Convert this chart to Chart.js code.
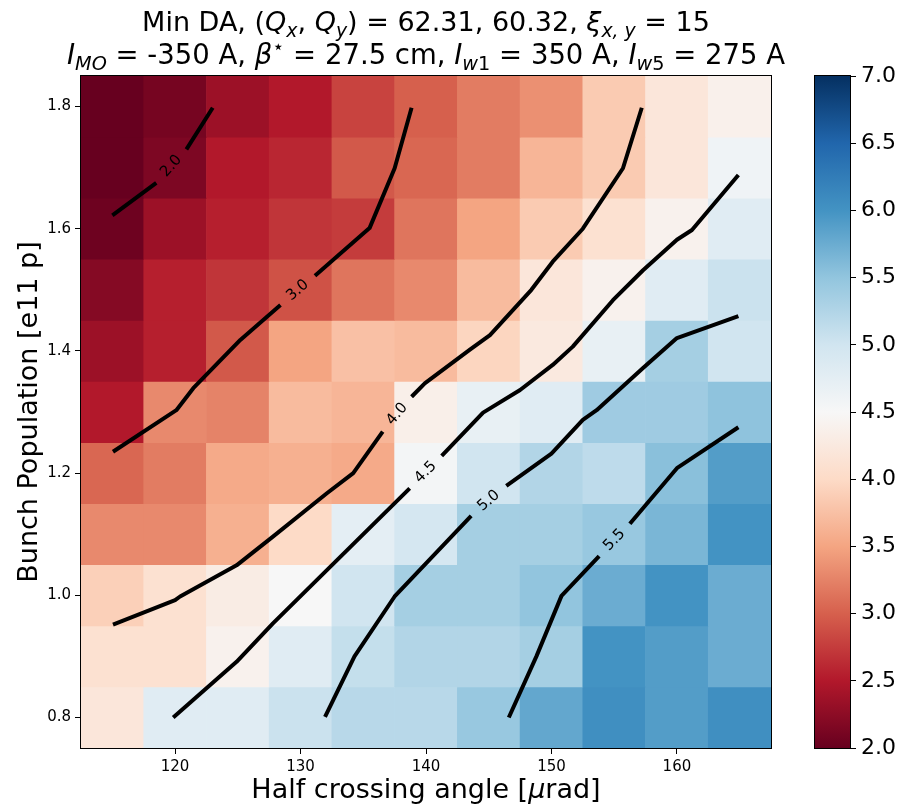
<!DOCTYPE html>
<html>
<head>
<meta charset="utf-8">
<script src="https://cdn.jsdelivr.net/npm/chart.js@4.4.1/dist/chart.umd.min.js"></script>
<style>
  html, body { margin: 0; padding: 0; background: #fff; }
  #wrap { position: relative; width: 900px; height: 809px; }
  #main { position: absolute; left: 0; top: 0; }
  #cbar { position: absolute; left: 800px; top: 0; }
</style>
</head>
<body>
<div id="wrap">
  <canvas id="main" width="800" height="809"></canvas>
  <canvas id="cbar" width="100" height="809"></canvas>
</div>
<script>
// cell centres
const crossingAngle = [115, 120, 125, 130, 135, 140, 145, 150, 155, 160, 165];
const bunchPop = [0.8, 0.9, 1.0, 1.1, 1.2, 1.3, 1.4, 1.5, 1.6, 1.7, 1.8];

// min DA per row of bunch population, crossing angle 115 -> 165
const da08 = [4.2, 4.8, 4.8, 5.05, 5.2, 5.2, 5.45, 5.8, 6.05, 5.9, 6.05];
const da09 = [4.1, 4.1, 4.4, 4.8, 5.1, 5.25, 5.25, 5.35, 6.0, 5.9, 5.75];
const da10 = [3.9, 4.1, 4.3, 4.5, 5.0, 5.35, 5.35, 5.5, 5.75, 6.0, 5.75];
const da11 = [3.3, 3.3, 3.6, 4.0, 4.75, 4.95, 5.35, 5.35, 5.45, 5.65, 6.0];
const da12 = [3.05, 3.2, 3.55, 3.6, 3.55, 4.55, 5.0, 5.25, 5.15, 5.55, 5.9];
const da13 = [2.5, 3.3, 3.25, 3.7, 3.65, 4.35, 4.7, 4.8, 5.4, 5.4, 5.52];
const da14 = [2.35, 2.55, 2.95, 3.5, 3.75, 3.7, 3.95, 4.25, 4.7, 5.35, 5.0];
const da15 = [2.2, 2.55, 2.7, 2.9, 3.15, 3.3, 3.7, 4.2, 4.4, 4.8, 5.05];
const da16 = [2.05, 2.35, 2.55, 2.7, 2.75, 3.15, 3.5, 3.85, 4.1, 4.4, 4.8];
const da17 = [1.98, 2.15, 2.5, 2.6, 2.95, 3.05, 3.2, 3.65, 3.85, 4.2, 4.6];
const da18 = [1.9, 2.1, 2.35, 2.5, 2.8, 3.0, 3.2, 3.35, 3.85, 4.2, 4.37];
const daRows = [da08, da09, da10, da11, da12, da13, da14, da15, da16, da17, da18];

// contour lines (null = gap left for the level label)
const c20x = [115.0, 118.5, null, 120.9, 123.0];
const c20y = [1.622, 1.675, null, 1.730, 1.798];
const c30x = [115.05, 120.1, 121.45, 125.2, 128.4, null, 131.15, 135.5, 137.5, 138.85];
const c30y = [1.235, 1.303, 1.339, 1.418, 1.475, null, 1.523, 1.601, 1.699, 1.798];
const c40x = [115.05, 120.0, 120.4, 124.9, 127.8, 132.1, 134.2, 136.55, null, 138.85, 139.9, 143.5, 145.1, 148.4, 150.1, 152.5, 155.7, 157.2];
const c40y = [0.952, 0.992, 0.998, 1.049, 1.096, 1.167, 1.200, 1.268, null, 1.325, 1.347, 1.402, 1.426, 1.500, 1.546, 1.600, 1.699, 1.798];
const c45x = [119.85, 124.9, 127.8, 138.7, null, 141.25, 144.55, 147.5, 150.1, 151.7, 154.9, 157.3, 160.0, 161.2, 164.9];
const c45y = [0.800, 0.891, 0.954, 1.175, null, 1.228, 1.299, 1.336, 1.377, 1.407, 1.483, 1.532, 1.582, 1.598, 1.688];
const c50x = [131.95, 134.3, 137.5, 143.6, null, 146.4, 150.0, 152.5, 153.6, 157.3, 160.0, 164.9];
const c50y = [0.801, 0.900, 0.998, 1.130, null, 1.179, 1.232, 1.287, 1.303, 1.372, 1.421, 1.457];
const c55x = [146.6, 148.8, 150.8, 153.8, null, 156.25, 160.0, 164.9];
const c55y = [0.800, 0.900, 0.999, 1.064, null, 1.117, 1.208, 1.275];
const contourLevels = ['2.0', '3.0', '4.0', '4.5', '5.0', '5.5'];
const contours = [[c20x, c20y], [c30x, c30y], [c40x, c40y], [c45x, c45y], [c50x, c50y], [c55x, c55y]];

const xTicks = [120, 130, 140, 150, 160];
const yTicks = [0.8, 1.0, 1.2, 1.4, 1.6, 1.8];
const cbarTicks = [2.0, 2.5, 3.0, 3.5, 4.0, 4.5, 5.0, 5.5, 6.0, 6.5, 7.0];
const VMIN = 2, VMAX = 7;

// rich text pieces: i = italic, s = subscript, p = superscript
const titleLine1 = [['Min DA, ', ''], ['(', ''], ['Q', 'i'], ['x', 'is'], [', ', ''], ['Q', 'i'], ['y', 'is'],
  [') = 62.31, 60.32, ', ''], ['\u03be', 'i'], ['x, y', 'is'], [' = 15', '']];
const titleLine2 = [['I', 'i'], ['MO', 'is'], [' = -350 A, ', ''], ['\u03b2', 'i'], ['\u22c6', 'p'], [' = 27.5 cm, ', ''],
  ['I', 'i'], ['w', 'is'], ['1', 's'], [' = 350 A, ', ''], ['I', 'i'], ['w', 'is'], ['5', 's'], [' = 275 A', '']];
const xTitle = [['Half crossing angle [', ''], ['\u03bc', 'i'], ['rad]', '']];

// matplotlib RdBu
const RDBU = [[103, 0, 31], [178, 24, 43], [214, 96, 77], [244, 165, 130], [253, 219, 199], [247, 247, 247],
  [209, 229, 240], [146, 197, 222], [67, 147, 195], [33, 102, 172], [5, 48, 97]];

function rdbu(v) {
  let t = (v - VMIN) / (VMAX - VMIN);
  t = Math.max(0, Math.min(1, t)) * 10;
  const i = Math.min(9, Math.floor(t)), f = t - i;
  const a = RDBU[i], b = RDBU[i + 1];
  return 'rgb(' + a.map((c, k) => Math.round(c + (b[k] - c) * f)).join(',') + ')';
}

Chart.defaults.font.family = '"DejaVu Sans", sans-serif';
Chart.defaults.color = '#000';

const halfW = (crossingAngle[1] - crossingAngle[0]) / 2;
const halfH = (bunchPop[1] - bunchPop[0]) / 2;
const cells = [];
const cellColors = [];
daRows.forEach((row, j) => row.forEach((v, i) => {
  cells.push({ x: crossingAngle[i], y: [bunchPop[j] - halfH, bunchPop[j] + halfH] });
  cellColors.push(rdbu(v));
}));

const lineSets = contours.map(([xs, ys], k) => ({
  type: 'line',
  label: contourLevels[k],
  data: xs.map((x, i) => ({ x: x, y: ys[i] })),
  borderColor: '#000',
  borderWidth: 4,
  borderJoinStyle: 'round',
  pointRadius: 0,
  fill: false,
  tension: 0,
  spanGaps: false,
  order: 0
}));

function drawRich(ctx, parts, cx, baseY, size) {
  const fontOf = st => (st.includes('i') ? 'italic ' : '') +
    ((st.includes('s') || st.includes('p')) ? size * 0.7 : size) + 'px "DejaVu Sans"';
  let w = 0;
  parts.forEach(([t, st]) => { ctx.font = fontOf(st); w += ctx.measureText(t).width; });
  let xx = cx - w / 2;
  ctx.textAlign = 'left';
  ctx.textBaseline = 'alphabetic';
  parts.forEach(([t, st]) => {
    ctx.font = fontOf(st);
    const dy = st.includes('s') ? size * 0.22 : (st.includes('p') ? -size * 0.4 : 0);
    ctx.fillText(t, xx, baseY + dy);
    xx += ctx.measureText(t).width;
  });
}

const overlay = {
  id: 'overlay',
  afterDatasetsDraw(chart) {
    const { ctx, chartArea: a, scales: { x, y } } = chart;
    ctx.save();
    ctx.font = '15px "DejaVu Sans"';
    ctx.fillStyle = '#000';
    ctx.textAlign = 'center';
    ctx.textBaseline = 'middle';
    contours.forEach(([xs, ys], k) => {
      const g = ys.indexOf(null);
      const x1 = x.getPixelForValue(xs[g - 1]), y1 = y.getPixelForValue(ys[g - 1]);
      const x2 = x.getPixelForValue(xs[g + 1]), y2 = y.getPixelForValue(ys[g + 1]);
      ctx.save();
      ctx.translate((x1 + x2) / 2, (y1 + y2) / 2);
      ctx.rotate(Math.atan2(y2 - y1, x2 - x1));
      ctx.fillText(contourLevels[k], 0, 0);
      ctx.restore();
    });
    ctx.strokeStyle = '#000';
    ctx.lineWidth = 1;
    ctx.strokeRect(Math.round(a.left) - 0.5, Math.round(a.top) - 0.5, Math.round(a.right - a.left) + 1, Math.round(a.bottom - a.top) + 1);
    ctx.restore();
  },
  afterDraw(chart) {
    const { ctx, chartArea: a } = chart;
    const cx = (a.left + a.right) / 2;
    ctx.save();
    ctx.fillStyle = '#000';
    drawRich(ctx, titleLine1, cx, 31, 27);
    drawRich(ctx, titleLine2, cx, 64, 27.5);
    drawRich(ctx, xTitle, cx, 798, 27);
    ctx.restore();
  }
};

new Chart(document.getElementById('main'), {
  type: 'bar',
  data: {
    datasets: [...lineSets, {
      label: 'min DA',
      data: cells,
      backgroundColor: cellColors,
      borderWidth: 0,
      barPercentage: 1,
      categoryPercentage: 1,
      grouped: false,
      order: 1
    }]
  },
  options: {
    responsive: false,
    animation: false,
    events: [],
    layout: { padding: { left: 0, top: 76, right: 29, bottom: 0 } },
    plugins: { legend: { display: false }, tooltip: { enabled: false } },
    scales: {
      x: {
        type: 'linear',
        min: crossingAngle[0] - halfW,
        max: crossingAngle[crossingAngle.length - 1] + halfW,
        offset: false,
        afterBuildTicks: s => { s.ticks = xTicks.map(v => ({ value: v })); },
        afterFit: s => { s.height = 61; },
        grid: { display: true, drawOnChartArea: false, drawTicks: true, tickLength: 6, color: '#000', offset: false },
        border: { display: false },
        ticks: { font: { size: 15 }, padding: 4, maxRotation: 0, autoSkip: false, callback: v => String(v) },
        title: { display: false }
      },
      y: {
        type: 'linear',
        min: bunchPop[0] - halfH,
        max: bunchPop[bunchPop.length - 1] + halfH,
        afterBuildTicks: s => { s.ticks = yTicks.map(v => ({ value: v })); },
        afterFit: s => { s.width = 81; },
        grid: { display: true, drawOnChartArea: false, drawTicks: true, tickLength: 6, color: '#000' },
        border: { display: false },
        ticks: { font: { size: 15 }, padding: 4, autoSkip: false, callback: v => v.toFixed(1) },
        title: { display: true, text: 'Bunch Population [e11 p]', font: { size: 27 }, padding: { top: 14, bottom: 0 } }
      }
    }
  },
  plugins: [overlay]
});

const cbarFrame = {
  id: 'cbarFrame',
  afterDatasetsDraw(chart) {
    const { ctx, chartArea: a } = chart;
    ctx.save();
    ctx.strokeStyle = '#000';
    ctx.lineWidth = 1;
    ctx.strokeRect(Math.round(a.left) - 0.5, Math.round(a.top) - 0.5, Math.round(a.right - a.left) + 1, Math.round(a.bottom - a.top) + 1);
    ctx.restore();
  }
};

new Chart(document.getElementById('cbar'), {
  type: 'bar',
  data: {
    labels: [''],
    datasets: [{
      data: [[VMIN, VMAX]],
      backgroundColor: c => {
        const ys = c.chart.scales.y;
        const p0 = ys ? ys.getPixelForValue(VMIN) : NaN;
        const p1 = ys ? ys.getPixelForValue(VMAX) : NaN;
        if (!isFinite(p0) || !isFinite(p1)) return rdbu((VMIN + VMAX) / 2);
        const g = c.chart.ctx.createLinearGradient(0, p0, 0, p1);
        RDBU.forEach((col, i) => g.addColorStop(i / (RDBU.length - 1), 'rgb(' + col.join(',') + ')'));
        return g;
      },
      borderWidth: 0,
      barPercentage: 1,
      categoryPercentage: 1
    }]
  },
  options: {
    responsive: false,
    animation: false,
    events: [],
    layout: { padding: { left: 15, top: 76, right: 0, bottom: 61 } },
    plugins: { legend: { display: false }, tooltip: { enabled: false } },
    scales: {
      x: { display: false },
      y: {
        position: 'right',
        min: VMIN,
        max: VMAX,
        afterBuildTicks: s => { s.ticks = cbarTicks.map(v => ({ value: v })); },
        afterFit: s => { s.width = 50; },
        grid: { display: true, drawOnChartArea: false, drawTicks: true, tickLength: 6, color: '#000' },
        border: { display: false },
        ticks: { font: { size: 22 }, padding: 5, autoSkip: false, callback: v => v.toFixed(1) }
      }
    }
  },
  plugins: [cbarFrame]
});
</script>
</body>
</html>
